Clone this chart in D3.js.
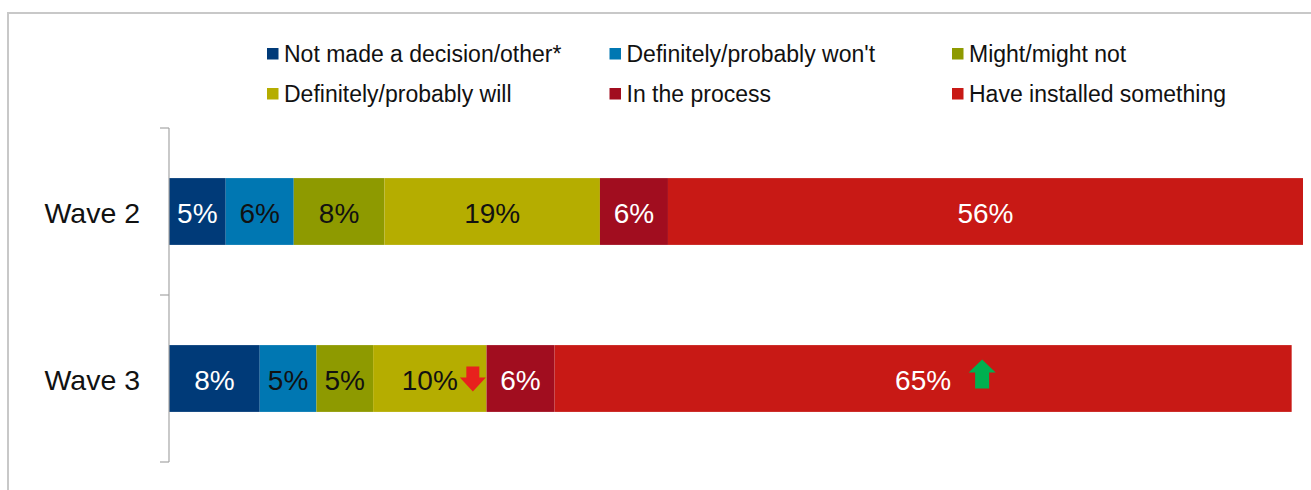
<!DOCTYPE html>
<html>
<head>
<meta charset="utf-8">
<script src="https://cdn.jsdelivr.net/npm/d3@7"></script>
<style>
  html, body { margin: 0; padding: 0; background: #ffffff; }
  svg { display: block; font-family: "Liberation Sans", Arial, sans-serif; }
</style>
</head>
<body>
<svg id="chart" width="1311" height="490"></svg>
<script>
// Survey waves and response categories
const waves = ["Wave 2", "Wave 3"];
const series = [
  "Not made a decision/other*",
  "Definitely/probably won't",
  "Might/might not",
  "Definitely/probably will",
  "In the process",
  "Have installed something"
];
// Percentages per wave, in series order
const wave2Values = [5, 6, 8, 19, 6, 56];
const wave3Values = [8, 5, 5, 10, 6, 65];
const seriesColors = ["#003a78", "#0077b2", "#8e9a00", "#b5ad00", "#a10d1f", "#c81915"];
const labelColors = ["#ffffff", "#111111", "#111111", "#111111", "#ffffff", "#ffffff"];

// Significant changes between waves
const changes = [
  { wave: "Wave 3", series: "Definitely/probably will", dir: "down", color: "#e8211d", gap: 15 },
  { wave: "Wave 3", series: "Have installed something", dir: "up", color: "#00b050", gap: 31 }
];

const valuesByWave = { "Wave 2": wave2Values, "Wave 3": wave3Values };

const svg = d3.select("#chart");

// Outer frame (top and left edges visible)
svg.append("path")
  .attr("d", "M8,490 L8,13 L1311,13")
  .attr("fill", "none")
  .attr("stroke", "#c8c8c8")
  .attr("stroke-width", 2);

const x = d3.scaleLinear().domain([0, 100]).range([169, 1303]);
const y = d3.scaleBand().domain(waves).range([128, 462])
  .paddingInner(0.6).paddingOuter(0.3);
const color = d3.scaleOrdinal().domain(series).range(seriesColors);

// Stack segments
const rows = waves.map(w => {
  let acc = 0;
  return valuesByWave[w].map((v, i) => {
    const seg = { wave: w, series: series[i], value: v, x0: acc, x1: acc + v, idx: i };
    acc += v;
    return seg;
  });
});

const g = svg.append("g");

rows.forEach(row => {
  g.selectAll(null).data(row).enter().append("rect")
    .attr("x", d => x(d.x0))
    .attr("y", d => y(d.wave))
    .attr("width", d => x(d.x1) - x(d.x0))
    .attr("height", y.bandwidth())
    .attr("fill", d => color(d.series));
});

// Value labels
const labelSel = {};
rows.forEach(row => {
  g.selectAll(null).data(row).enter().append("text")
    .attr("x", d => (x(d.x0) + x(d.x1)) / 2)
    .attr("y", d => y(d.wave) + y.bandwidth() / 2 + 11)
    .attr("text-anchor", "middle")
    .attr("font-size", 28)
    .attr("fill", d => labelColors[d.idx])
    .text(d => d.value + "%")
    .each(function(d) { labelSel[d.wave + "|" + d.series] = this; });
});

// Change arrows next to labels
changes.forEach(c => {
  const node = labelSel[c.wave + "|" + c.series];
  const bb = node.getBBox();
  const cx = bb.x + bb.width + c.gap;
  const cy = y(c.wave) + y.bandwidth() / 2;
  let pts;
  if (c.dir === "up") {
    // head 27 wide, shaft 14 wide
    const top = cy - 19, headB = top + 13, bot = top + 29;
    pts = [[cx, top], [cx + 13.5, headB], [cx + 7, headB], [cx + 7, bot],
           [cx - 7, bot], [cx - 7, headB], [cx - 13.5, headB]];
  } else {
    const top = cy - 12, headT = top + 11, tip = top + 25;
    pts = [[cx - 6.5, top], [cx + 6.5, top], [cx + 6.5, headT], [cx + 13, headT],
           [cx, tip], [cx - 13, headT], [cx - 6.5, headT]];
  }
  g.append("polygon")
    .attr("points", pts.map(p => p.join(",")).join(" "))
    .attr("fill", c.color);
});

// Category axis
const step = y.step();
const r0 = y.range()[0];
const bounds = d3.range(waves.length + 1).map(i => r0 + i * step);
const axis = svg.append("g").attr("stroke", "#a6a6a6").attr("stroke-width", 1.2);
axis.append("line").attr("x1", 169).attr("x2", 169)
  .attr("y1", bounds[0]).attr("y2", bounds[bounds.length - 1]);
axis.selectAll(null).data(bounds).enter().append("line")
  .attr("x1", 160).attr("x2", 169)
  .attr("y1", d => d).attr("y2", d => d);

svg.selectAll(null).data(waves).enter().append("text")
  .attr("x", 140)
  .attr("y", d => y(d) + y.bandwidth() / 2 + 11)
  .attr("text-anchor", "end")
  .attr("font-size", 28.5)
  .attr("fill", "#111111")
  .text(d => d);

// Legend: two rows of three
const legend = svg.append("g");
const legendCols = 3;
series.forEach((s, i) => {
  const col = i % legendCols, row = Math.floor(i / legendCols);
  const lx = 267 + col * 342.5;
  const ly = 54 + row * 40;
  legend.append("rect")
    .attr("x", lx).attr("y", ly - 6)
    .attr("width", 11.5).attr("height", 11.5)
    .attr("fill", color(s));
  legend.append("text")
    .attr("x", lx + 17).attr("y", ly + 8)
    .attr("font-size", 23)
    .attr("fill", "#111111")
    .text(s);
});
</script>
</body>
</html>
